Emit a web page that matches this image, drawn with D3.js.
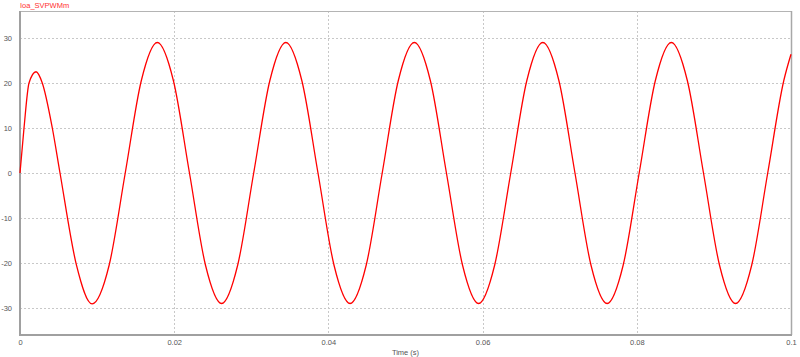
<!DOCTYPE html>
<html>
<head>
<meta charset="utf-8">
<script src="https://cdn.jsdelivr.net/npm/d3@7"></script>
<style>
  html, body { margin: 0; padding: 0; background: #ffffff; }
  svg { display: block; }
</style>
</head>
<body>
<svg id="chart" width="800" height="357"></svg>
<script>
// ---- Data ----
const seriesName = "Ioa_SVPWMm";
const xLabel = "Time (s)";
const timeValues = [
  0.0000, 0.00052, 0.00117, 0.00208, 0.00289, 0.00419, 0.00519,
  0.00730, 0.00935,
  0.01156, 0.01365, 0.01573, 0.01781, 0.01990, 0.02198, 0.02406, 0.02615,
  0.02823, 0.03031, 0.03240, 0.03448, 0.03656, 0.03865, 0.04073, 0.04281,
  0.04490, 0.04698, 0.04906, 0.05115, 0.05323, 0.05531, 0.05740, 0.05948,
  0.06156, 0.06365, 0.06573, 0.06781, 0.06990, 0.07198, 0.07406, 0.07615,
  0.07823, 0.08031, 0.08240, 0.08448, 0.08656, 0.08865, 0.09073, 0.09281,
  0.09490, 0.09698, 0.09906, 0.10000
];
const currentValues = [
  0.0, 10.0, 20.0, 22.5, 20.0, 10.0, 0.0,
  -20.3, -29.1,
  -20.5, 0.0, 20.5, 29.0, 20.5, 0.0, -20.5, -29.0,
  -20.5, 0.0, 20.5, 29.0, 20.5, 0.0, -20.5, -29.0,
  -20.5, 0.0, 20.5, 29.0, 20.5, 0.0, -20.5, -29.0,
  -20.5, 0.0, 20.5, 29.0, 20.5, 0.0, -20.5, -29.0,
  -20.5, 0.0, 20.5, 29.0, 20.5, 0.0, -20.5, -29.0,
  -20.5, 0.0, 20.5, 26.4
];
const xTicks = [0, 0.02, 0.04, 0.06, 0.08, 0.1];
const xTickLabels = ["0", "0.02", "0.04", "0.06", "0.08", "0.1"];
const yTicks = [-30, -20, -10, 0, 10, 20, 30];
const yTickLabels = ["-30", "-20", "-10", "0", "10", "20", "30"];

// ---- Layout ----
const svg = d3.select("#chart");
const pLeft = 20, pRight = 791, pTop = 11, pBottom = 335;

const x = d3.scaleLinear().domain([0, 0.1]).range([pLeft, pRight]);
const y = d3.scaleLinear().domain([-36, 36]).range([pBottom, pTop]);

const font = "'Liberation Sans', Arial, sans-serif";

// grid lines
const grid = svg.append("g");
grid.selectAll("line.h").data(yTicks).enter().append("line")
  .attr("x1", pLeft).attr("x2", pRight)
  .attr("y1", d => Math.round(y(d)) + 0.5).attr("y2", d => Math.round(y(d)) + 0.5)
  .attr("stroke", "#c8c8c8").attr("stroke-width", 1).attr("stroke-dasharray", "2,2");
grid.selectAll("line.v").data(xTicks.filter(d => d > 0 && d < 0.1)).enter().append("line")
  .attr("x1", d => Math.round(x(d)) + 0.5).attr("x2", d => Math.round(x(d)) + 0.5)
  .attr("y1", pTop).attr("y2", pBottom)
  .attr("stroke", "#c8c8c8").attr("stroke-width", 1).attr("stroke-dasharray", "2,2");

// frame
svg.append("line").attr("x1", pLeft).attr("x2", pRight).attr("y1", pTop + 0.5).attr("y2", pTop + 0.5)
  .attr("stroke", "#b4b4b4").attr("stroke-width", 1);
svg.append("line").attr("x1", pRight + 0.5).attr("x2", pRight + 0.5).attr("y1", pTop).attr("y2", pBottom)
  .attr("stroke", "#a8a8a8").attr("stroke-width", 1.5);

// axes via d3
const yAxis = d3.axisLeft(y).tickValues(yTicks)
  .tickFormat((d, i) => yTickLabels[i]).tickSize(0).tickPadding(8);
const yg = svg.append("g").attr("transform", `translate(${pLeft},0)`).call(yAxis);
yg.select(".domain").attr("stroke", "#a0a0a0").attr("stroke-width", 2)
  .attr("d", `M0,${pTop}V${pBottom}`);
yg.selectAll("text").attr("font-family", font).attr("font-size", 7.5).attr("fill", "#555");

const xAxis = d3.axisBottom(x).tickValues(xTicks)
  .tickFormat((d, i) => xTickLabels[i]).tickSize(0).tickPadding(5);
const xg = svg.append("g").attr("transform", `translate(0,${pBottom})`).call(xAxis);
xg.select(".domain").attr("stroke", "#a0a0a0").attr("stroke-width", 2)
  .attr("d", `M${pLeft - 1},0H${pRight + 1}`);
xg.selectAll("text").attr("font-family", font).attr("font-size", 7.5).attr("fill", "#555");

// axis title
svg.append("text").attr("x", (pLeft + pRight) / 2).attr("y", 355)
  .attr("text-anchor", "middle").attr("font-family", font).attr("font-size", 7.5)
  .attr("fill", "#555").text(xLabel);

// series title
svg.append("text").attr("x", 20).attr("y", 8)
  .attr("font-family", font).attr("font-size", 7.5)
  .attr("fill", "#ff3030").text(seriesName);

// curve
const data = timeValues.map((t, i) => ({ t, v: currentValues[i] }));
const line = d3.line().x(d => x(d.t)).y(d => y(d.v)).curve(d3.curveMonotoneX);
svg.append("path").datum(data)
  .attr("d", line)
  .attr("fill", "none").attr("stroke", "#ff0000").attr("stroke-width", 1.3);
</script>
</body>
</html>
